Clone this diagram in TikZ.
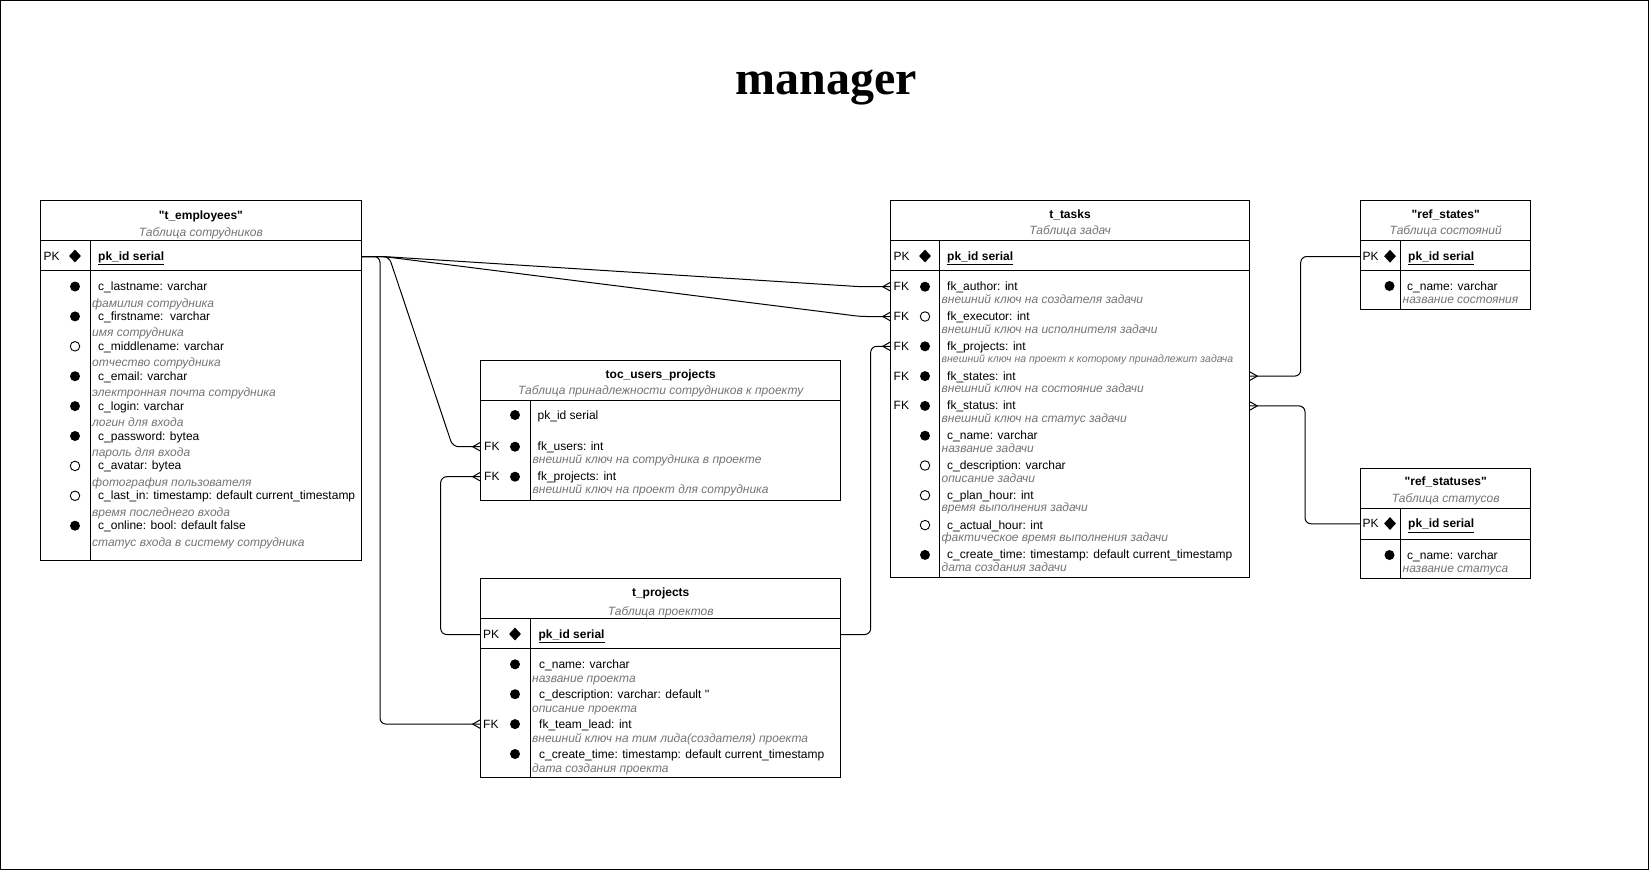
\documentclass[tikz,border=0pt]{standalone}
\usepackage{fontspec}
\setmainfont{Liberation Sans}[Ligatures=TeXOff]
\newfontfamily\titlefont{Liberation Serif}
\usetikzlibrary{shapes.geometric}

%% crow's foot end of a relation
\pgfdeclarearrow{
  name = Crow,
  setup code = {
    \pgfarrowssettipend{0pt}
    \pgfarrowssetlineend{0pt}
    \pgfarrowssetbackend{-8pt}
    \pgfarrowssetvisualbackend{-8pt}
    \pgfarrowshullpoint{0pt}{4.5pt}
    \pgfarrowshullpoint{0pt}{-4.5pt}
    \pgfarrowshullpoint{-8pt}{0pt}
  },
  drawing code = {
    \pgfpathmoveto{\pgfqpoint{0pt}{4.5pt}}
    \pgfpathlineto{\pgfqpoint{-8pt}{0pt}}
    \pgfpathlineto{\pgfqpoint{0pt}{-4.5pt}}
    \pgfusepathqstroke
  }
}

\tikzset{
  tablebox/.style={draw,line width=1pt,anchor=north west,inner sep=0pt,outer sep=0pt},
  tabletitle/.style={font=\fontsize{12}{14}\selectfont\bfseries,anchor=base,inner sep=0pt},
  tablenote/.style={font=\fontsize{12}{14}\selectfont\itshape,text=black!55,anchor=base,inner sep=0pt},
  fieldname/.style={font=\fontsize{12}{14}\selectfont,anchor=base west,inner sep=0pt,text height=10pt,text depth=2pt},
  pkname/.style={fieldname,font=\fontsize{12}{14}\selectfont\bfseries},
  fieldnote/.style={font=\fontsize{12}{14}\selectfont\itshape,text=black!55,anchor=base west,inner sep=0pt},
  keylabel/.style={font=\fontsize{12}{14}\selectfont,anchor=base west,inner sep=0pt},
  mf/.style={circle,fill=black,inner sep=0pt,minimum size=10pt},
  mo/.style={circle,draw=black,line width=0.9pt,inner sep=0pt,minimum size=9.5pt},
  mpk/.style={diamond,fill=black,inner sep=0pt,minimum width=12pt,minimum height=13pt},
  relation/.style={line width=1pt,rounded corners=6pt},
}

\begin{document}
\begin{tikzpicture}[x=1pt,y=-1pt]
\useasboundingbox (0,0) rectangle (1651,871);
\draw[line width=1pt] (0.5,0.5) rectangle (1648,869.5);

\node[font=\titlefont\bfseries\fontsize{48}{56}\selectfont,anchor=base,inner sep=0pt] (title) at (826,94) {manager};

%% t_employees
\node[tablebox,minimum width=320.3pt,minimum height=360pt] (emp) at (40.7,200) {};
\draw[line width=1pt] (40.7,240.7) -- (361,240.7) (40.7,270) -- (361,270) (90,240.7) -- (90,560);
\node[tabletitle] (emp-t) at (200.9,219) {"t\_employees"};
\node[tablenote] (emp-s) at (200.9,236) {Таблица сотрудников};
\node[keylabel] (emp-k) at (43.5,260.5) {PK};
\node[mpk] (emp-d) at (75,256) {};
\node[pkname] (emp-pk) at (98,260.5) {\underline{pk\_id serial}};
\foreach \i/\y/\mk/\field/\note in {
  1/286.5/mf/{c\_lastname: varchar}/{фамилия сотрудника},
  2/316.4/mf/{c\_firstname:\ \ varchar}/{имя сотрудника},
  3/346.3/mo/{c\_middlename: varchar}/{отчество сотрудника},
  4/376.2/mf/{c\_email: varchar}/{электронная почта сотрудника},
  5/406.1/mf/{c\_login: varchar}/{логин для входа},
  6/436/mf/{c\_password: bytea}/{пароль для входа},
  7/465.9/mo/{c\_avatar: bytea}/{фотография пользователя},
  8/495.8/mo/{c\_last\_in: timestamp: default current\_timestamp}/{время последнего входа},
  9/525.7/mf/{c\_online: bool: default false}/{статус входа в систему сотрудника}}
{
  \node[\mk] (emp-m\i) at (75,\y) {};
  \node[fieldname] (emp-f\i) at (98,\y+4) {\field};
  \node[fieldnote] (emp-n\i) at (92,\y+20.5) {\note};
}

%% toc_users_projects
\node[tablebox,minimum width=360pt,minimum height=140pt] (toc) at (480.7,360.7) {};
\draw[line width=1pt] (480.7,400.7) -- (840.7,400.7) (530.3,400.7) -- (530.3,500.7);
\node[tabletitle] (toc-t) at (660.7,378) {toc\_users\_projects};
\node[tablenote] (toc-s) at (660.7,394.7) {Таблица принадлежности сотрудников к проекту};
\node[mf] (toc-m0) at (515,415) {};
\node[fieldname] (toc-f0) at (537.5,419) {pk\_id serial};
\foreach \i/\y/\field/\note in {
  1/446.7/{fk\_users: int}/{внешний ключ на сотрудника в проекте},
  2/476.7/{fk\_projects: int}/{внешний ключ на проект для сотрудника}}
{
  \node[keylabel] (toc-k\i) at (484,\y+4) {FK};
  \node[mf] (toc-m\i) at (515,\y) {};
  \node[fieldname] (toc-f\i) at (537.5,\y+4) {\field};
  \node[fieldnote] (toc-n\i) at (532.5,\y+16.5) {\note};
}

%% t_projects
\node[tablebox,minimum width=360pt,minimum height=199pt] (proj) at (480.7,578.3) {};
\draw[line width=1pt] (480.7,618.3) -- (840.7,618.3) (480.7,648.3) -- (840.7,648.3) (530.3,618.3) -- (530.3,777.3);
\node[tabletitle] (proj-t) at (660.7,596.7) {t\_projects};
\node[tablenote] (proj-s) at (660.7,615.7) {Таблица проектов};
\node[keylabel] (proj-k) at (483,638.5) {PK};
\node[mpk] (proj-d) at (515,634) {};
\node[pkname] (proj-pk) at (538.3,638.5) {\underline{pk\_id serial}};
\foreach \i/\y/\field/\note in {
  1/664.3/{c\_name: varchar}/{название проекта},
  2/694.2/{c\_description: varchar: default ''}/{описание проекта},
  3/724.1/{fk\_team\_lead: int}/{внешний ключ на тим лида(создателя) проекта},
  4/754/{c\_create\_time: timestamp: default current\_timestamp}/{дата создания проекта}}
{
  \node[mf] (proj-m\i) at (515,\y) {};
  \node[fieldname] (proj-f\i) at (539,\y+4) {\field};
  \node[fieldnote] (proj-n\i) at (532,\y+18) {\note};
}
\node[keylabel] (proj-k3) at (483,728.1) {FK};

%% t_tasks
\node[tablebox,minimum width=358.6pt,minimum height=377pt] (tasks) at (890.7,200) {};
\draw[line width=1pt] (890.7,240.7) -- (1249.3,240.7) (890.7,270) -- (1249.3,270) (939.3,240.7) -- (939.3,577);
\node[tabletitle] (tasks-t) at (1070,218) {t\_tasks};
\node[tablenote] (tasks-s) at (1070,234.7) {Таблица задач};
\node[keylabel] (tasks-k) at (893.5,260.5) {PK};
\node[mpk] (tasks-d) at (925,256) {};
\node[pkname] (tasks-pk) at (947,260.5) {\underline{pk\_id serial}};
\foreach \i/\y/\mk/\field/\note in {
  1/286.7/mf/{fk\_author: int}/{внешний ключ на создателя задачи},
  2/316.5/mo/{fk\_executor: int}/{внешний ключ на исполнителя задачи},
  3/346.3/mf/{fk\_projects: int}/{\fontsize{10.5}{12}\selectfont внешний ключ на проект к которому принадлежит задача},
  4/376.1/mf/{fk\_states: int}/{внешний ключ на состояние задачи},
  5/405.9/mf/{fk\_status: int}/{внешний ключ на статус задачи}}
{
  \node[keylabel] (tasks-k\i) at (893.5,\y+4) {FK};
  \node[\mk] (tasks-m\i) at (925,\y) {};
  \node[fieldname] (tasks-f\i) at (947,\y+4) {\field};
  \node[fieldnote] (tasks-n\i) at (941.5,\y+16.5) {\note};
}
\foreach \i/\y/\mk/\field/\note in {
  6/435.7/mf/{c\_name: varchar}/{название задачи},
  7/465.5/mo/{c\_description: varchar}/{описание задачи},
  8/495.3/mo/{c\_plan\_hour: int}/{время выполнения задачи},
  9/525.1/mo/{c\_actual\_hour: int}/{фактическое время выполнения задачи},
  10/554.9/mf/{c\_create\_time: timestamp: default current\_timestamp}/{дата создания задачи}}
{
  \node[\mk] (tasks-m\i) at (925,\y) {};
  \node[fieldname] (tasks-f\i) at (947,\y+4) {\field};
  \node[fieldnote] (tasks-n\i) at (941.5,\y+16.5) {\note};
}

%% ref_states and ref_statuses
\foreach \tb/\top/\hd/\pk/\bot/\name/\desc/\note in {
  states/200.7/240.7/270/309.3/{"ref\_states"}/{Таблица состояний}/{название состояния},
  statuses/468.3/508/539/578.6/{"ref\_statuses"}/{Таблица статусов}/{название статуса}}
{
  \node[tablebox,minimum width=170pt,minimum height=\bot-\top] (\tb) at (1360.7,\top) {};
  \draw[line width=1pt] (1360.7,\hd) -- (1530.7,\hd) (1360.7,\pk) -- (1530.7,\pk) (1400.7,\hd) -- (1400.7,\bot);
  \node[tabletitle] (\tb-t) at (1445.7,\top+17.5) {\name};
  \node[tablenote] (\tb-s) at (1445.7,\top+34) {\desc};
  \node[keylabel] (\tb-k) at (1362.3,\hd+19.8) {PK};
  \node[mpk] (\tb-d) at (1390,\hd+15.5) {};
  \node[pkname] (\tb-pk) at (1408,\hd+19.8) {\underline{pk\_id serial}};
  \node[mf] (\tb-m1) at (1389.5,\pk+16) {};
  \node[fieldname] (\tb-f1) at (1407,\pk+20) {c\_name: varchar};
  \node[fieldnote] (\tb-n1) at (1402.5,\pk+33) {\note};
}

%% relations
\draw[relation,-Crow] (emp-pk -| emp.east) -- ++(22,0) -- ([xshift=-30pt]tasks-f1 -| tasks.west) -- (tasks-f1 -| tasks.west);
\draw[relation,-Crow] (emp-pk -| emp.east) -- ++(22,0) -- ([xshift=-30pt]tasks-f2 -| tasks.west) -- (tasks-f2 -| tasks.west);
\draw[relation,-Crow] (emp-pk -| emp.east) -- ++(28,0) -- ([xshift=-28pt]toc-f1 -| toc.west) -- (toc-f1 -| toc.west);
\draw[relation,-Crow] (emp-pk -| emp.east) -- ++(19,0) |- (proj-f3 -| proj.west);
\draw[relation,-Crow] (proj-pk -| proj.west) -- ++(-40,0) |- (toc-f2 -| toc.west);
\draw[relation,-Crow] (proj-pk -| proj.east) -- ++(30,0) |- (tasks-f3 -| tasks.west);
\draw[relation,Crow-] (tasks-f4 -| tasks.east) -- ++(51.4,0) |- (states-pk -| states.west);
\draw[relation,Crow-] (tasks-f5 -| tasks.east) -- ++(55.7,0) |- (statuses-pk -| statuses.west);
\end{tikzpicture}
\end{document}
